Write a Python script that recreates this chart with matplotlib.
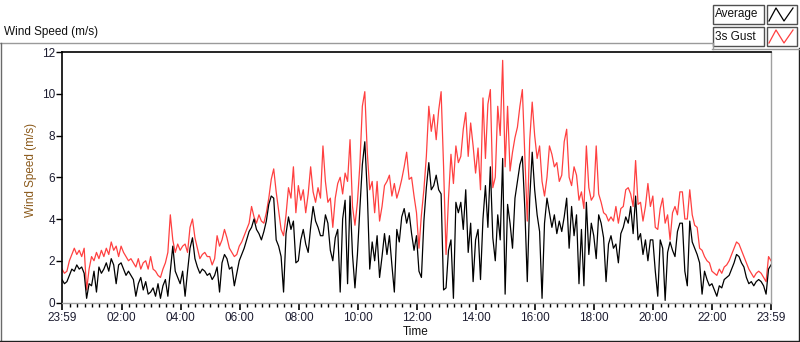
import numpy as np
import matplotlib
matplotlib.use("Agg")
import matplotlib.pyplot as plt
from matplotlib.lines import Line2D
from matplotlib.patches import Rectangle

plt.rcParams['font.family'] = ['Liberation Sans', 'DejaVu Sans']

# ---------------- data (5-minute steps from 23:59) -------------
step_min = 5

gust_speed = [
    1.6, 1.4, 1.5, 2.0, 2.3, 2.6, 2.3, 2.5, 2.2, 2.6, 0.6, 1.6,
    2.2, 2.0, 2.4, 2.1, 2.5, 2.2, 2.6, 2.3, 2.9, 2.5, 2.7, 2.2,
    2.7, 2.4, 2.2, 2.0, 2.1, 1.9, 1.7, 2.1, 1.6, 1.9, 2.0, 1.6,
    2.2, 1.6, 1.5, 1.3, 1.2, 1.6, 1.9, 2.4, 4.2, 3.0, 2.4, 2.8,
    2.5, 2.7, 2.8, 2.4, 3.6, 4.0, 3.1, 2.6, 2.1, 2.3, 2.4, 2.2,
    2.2, 1.8, 2.1, 3.2, 2.7, 3.0, 3.5, 3.1, 2.6, 2.4, 2.2, 2.3,
    2.7, 2.9, 3.2, 3.5, 3.8, 4.6, 4.1, 3.8, 4.2, 3.9, 3.8, 4.3,
    5.0, 5.9, 6.4, 5.3, 4.4, 3.5, 3.2, 4.2, 5.5, 5.0, 6.5, 4.3,
    5.6, 4.9, 5.4, 4.3, 5.2, 6.5, 5.3, 4.8, 5.5, 5.0, 7.5, 5.8,
    4.8, 5.0, 3.6, 5.0, 5.7, 6.0, 5.2, 6.2, 5.8, 7.8, 4.6, 3.7,
    4.8, 6.6, 9.4, 10.1, 7.2, 5.4, 5.8, 4.3, 5.8, 3.9, 4.6, 5.6,
    5.8, 6.1, 5.1, 5.7, 5.0, 5.4, 5.9, 6.5, 7.2, 5.9, 6.0, 5.1,
    4.3, 2.6, 4.2, 5.4, 7.0, 9.4, 8.2, 9.0, 7.8, 9.2, 10.1, 6.5,
    2.3, 5.0, 7.1, 5.7, 7.5, 6.7, 7.0, 8.3, 9.1, 7.0, 8.6, 7.5,
    6.2, 7.4, 5.4, 9.8, 6.9, 9.5, 10.2, 5.5, 6.0, 9.4, 8.0, 11.6,
    6.5, 9.4, 6.3, 7.2, 7.9, 8.4, 9.4, 10.2, 7.1, 3.9, 7.8, 9.6,
    8.0, 6.9, 7.5, 5.8, 5.1, 6.0, 7.5, 7.1, 6.5, 6.7, 5.8, 6.1,
    7.7, 8.3, 6.0, 5.6, 6.5, 6.1, 4.9, 5.3, 4.5, 7.5, 5.5, 4.9,
    5.1, 7.5, 5.2, 4.8, 4.3, 4.2, 3.9, 4.1, 3.9, 4.6, 3.8, 4.5,
    4.6, 5.4, 5.5, 5.2, 4.6, 6.8, 4.7, 4.8, 3.9, 4.6, 5.7, 4.6,
    5.1, 3.6, 3.5, 4.5, 5.0, 3.8, 4.2, 3.0, 4.3, 4.6, 4.2, 5.3,
    5.3, 4.0, 4.0, 5.4, 4.2, 3.7, 3.6, 2.6, 2.5, 2.2, 2.0, 1.9,
    1.5, 1.4, 1.3, 1.6, 1.4, 1.7, 1.8, 2.0, 2.3, 2.6, 2.9, 2.8,
    2.5, 2.2, 1.9, 1.6, 1.4, 1.2, 1.4, 1.5, 1.4, 1.2, 1.0, 2.2, 2.0,
]

avg_speed = [
    1.1, 0.9, 1.0, 1.3, 1.6, 1.5, 1.8, 1.6, 1.7, 1.4, 0.2, 0.9,
    0.8, 1.5, 0.5, 1.7, 1.4, 1.6, 1.9, 1.5, 2.1, 1.8, 0.9, 1.8,
    1.9, 1.6, 1.3, 1.5, 1.3, 1.1, 0.3, 0.9, 1.2, 0.6, 1.0, 0.4,
    0.5, 0.7, 0.3, 0.9, 0.2, 0.8, 1.1, 0.3, 1.5, 2.7, 1.5, 1.2,
    0.9, 1.5, 0.3, 1.5, 2.6, 3.1, 2.1, 1.7, 1.4, 1.6, 1.5, 1.3,
    1.4, 1.1, 1.3, 1.7, 0.5, 1.9, 2.3, 2.1, 1.6, 1.7, 0.8, 1.4,
    2.0, 2.3, 2.6, 3.0, 3.4, 3.6, 4.0, 3.5, 3.3, 3.0, 3.4, 3.9,
    4.7, 5.1, 5.0, 3.0, 2.7, 2.2, 0.5, 3.3, 4.1, 3.5, 3.9, 1.9,
    2.0, 3.0, 3.5, 2.8, 2.4, 3.6, 4.6, 3.9, 3.6, 3.2, 3.2, 4.2,
    3.8, 2.5, 2.0, 3.1, 3.5, 0.5, 4.0, 4.9, 0.9, 5.1, 2.3, 0.7,
    2.3, 4.5, 6.6, 7.7, 5.3, 1.6, 2.9, 2.0, 3.2, 1.2, 2.2, 3.3,
    2.3, 3.2, 1.8, 0.5, 3.5, 2.9, 4.1, 4.5, 3.8, 4.3, 3.3, 2.5,
    3.2, 1.5, 1.2, 3.9, 5.5, 6.7, 5.4, 5.6, 6.1, 5.4, 5.2, 0.6,
    0.7, 2.5, 3.0, 0.2, 4.8, 4.3, 4.8, 3.5, 5.4, 2.4, 3.8, 1.0,
    3.0, 3.5, 1.1, 4.0, 5.6, 3.6, 6.5, 3.1, 2.0, 4.2, 3.0, 6.9,
    0.4, 4.7, 3.8, 2.6, 5.0, 5.8, 6.6, 7.0, 4.5, 1.0, 5.0, 7.2,
    5.4, 4.2, 3.4, 0.2, 3.8, 5.0, 4.3, 3.6, 4.2, 3.3, 3.9, 3.4,
    4.1, 5.0, 2.6, 4.6, 3.2, 4.2, 0.9, 3.5, 0.8, 4.8, 2.3, 3.8,
    3.2, 2.1, 4.2, 3.8, 3.1, 1.0, 2.8, 3.2, 2.6, 2.8, 1.9, 3.3,
    3.6, 4.1, 3.8, 4.6, 3.3, 5.1, 3.0, 3.3, 2.3, 3.0, 2.0, 3.0,
    3.0, 1.5, 0.3, 3.0, 2.6, 0.1, 2.4, 2.9, 2.5, 2.2, 3.4, 3.8,
    3.8, 1.5, 0.8, 3.9, 2.9, 2.6, 2.3, 1.9, 0.4, 1.5, 1.1, 0.8,
    0.9, 0.6, 0.3, 0.8, 0.7, 1.1, 1.2, 1.3, 1.6, 1.9, 2.3, 2.2,
    1.9, 1.7, 1.2, 0.9, 1.0, 0.8, 1.0, 1.1, 1.0, 0.8, 0.4, 1.6, 1.8,
]

tick_minutes = [0, 121, 241, 361, 481, 601, 721, 841, 961, 1081, 1201, 1321, 1440]
tick_labels = ['23:59', '02:00', '04:00', '06:00', '08:00', '10:00', '12:00',
               '14:00', '16:00', '18:00', '20:00', '22:00', '23:59']
y_ticks = [0, 2, 4, 6, 8, 10, 12]
series_names = ['Average', '3s Gust']

minutes = np.arange(len(gust_speed)) * step_min

# ---------------- figure ----------------
W, H = 800, 342
fig = plt.figure(figsize=(W / 100, H / 100), dpi=100)
fig.patch.set_facecolor('white')

# overlay in pixel coordinates for the LabVIEW-style frame, title and legend
ov = fig.add_axes([0, 0, 1, 1], zorder=0)
ov.set_xlim(0, W)
ov.set_ylim(H, 0)
ov.axis('off')

frame_gray = '#9a9a9a'
ov.add_line(Line2D([0, 712], [42.5, 42.5], color=frame_gray, lw=1))
ov.add_line(Line2D([0.5, 0.5], [42.5, 341], color='#6a6a6a', lw=1))
ov.add_line(Line2D([0, 799], [341, 341], color='#202020', lw=1))
ov.add_line(Line2D([798.5, 798.5], [48, 341], color='#202020', lw=1))
ov.add_line(Line2D([712, 799], [48.5, 48.5], color=frame_gray, lw=1))
ov.add_line(Line2D([712.5, 712.5], [42.5, 48.5], color=frame_gray, lw=1))

ov.text(4, 32, 'Wind Speed (m/s)', fontsize=8.5, ha='left', va='center', color='#111111')
ov.text(416, 332, 'Time', fontsize=8.5, ha='center', va='center', color='#111111')
ov.text(31, 170, 'Wind Speed (m/s)', fontsize=8.5, ha='center', va='center',
        rotation=90, color='#8b5a1b')

# legend boxes
legend_colors = ['black', '#ff4040']
for i, (name, col) in enumerate(zip(series_names, legend_colors)):
    y0 = 5 + i * 22
    ov.add_patch(Rectangle((712.5, y0), 51, 19, fill=True, facecolor='white',
                           edgecolor='#505050', lw=1))
    ov.text(715, y0 + 9.5, name, fontsize=8.5, ha='left', va='center', color='#111111')
    ov.add_patch(Rectangle((766.5, y0), 30, 19, fill=True, facecolor='white',
                           edgecolor='#505050', lw=1))
    ov.add_line(Line2D([769, 776, 784, 793], [y0 + 16, y0 + 3, y0 + 16, y0 + 3],
                       color=col, lw=0.9))

# main plot area
ax = fig.add_axes([62 / W, (H - 302.5) / H, (771 - 62) / W, (302.5 - 52) / H], zorder=1)
ax.set_facecolor('white')
ax.plot(minutes, gust_speed, color='#ff4040', lw=0.9)
ax.plot(minutes, avg_speed, color='black', lw=0.9)
ax.set_xlim(0, 1440)
ax.set_ylim(0, 12)

ax.set_yticks(y_ticks)
ax.set_yticklabels([str(v) for v in y_ticks])
ax.set_xticks(tick_minutes)
ax.set_xticklabels(tick_labels)
minor = [1 + 15 * k for k in range(1, 96) if (1 + 15 * k) not in tick_minutes and (1 + 15 * k) < 1440]
ax.set_xticks(minor, minor=True)

ax.tick_params(axis='y', direction='out', length=4, width=1, color='black',
               labelsize=8.5, labelcolor='#1c1c30', pad=1)
ax.tick_params(axis='x', which='major', direction='out', length=5, width=1.2,
               color='black', labelsize=8.5, labelcolor='#1c1c30', pad=2)
ax.tick_params(axis='x', which='minor', direction='out', length=3, width=1, color='black')

for s in ['left', 'top']:
    ax.spines[s].set_color('black')
    ax.spines[s].set_linewidth(1.2)
for s in ['right', 'bottom']:
    ax.spines[s].set_color('#a0a0a0')
    ax.spines[s].set_linewidth(1)

fig.savefig('out.png', dpi=100, facecolor='white')
